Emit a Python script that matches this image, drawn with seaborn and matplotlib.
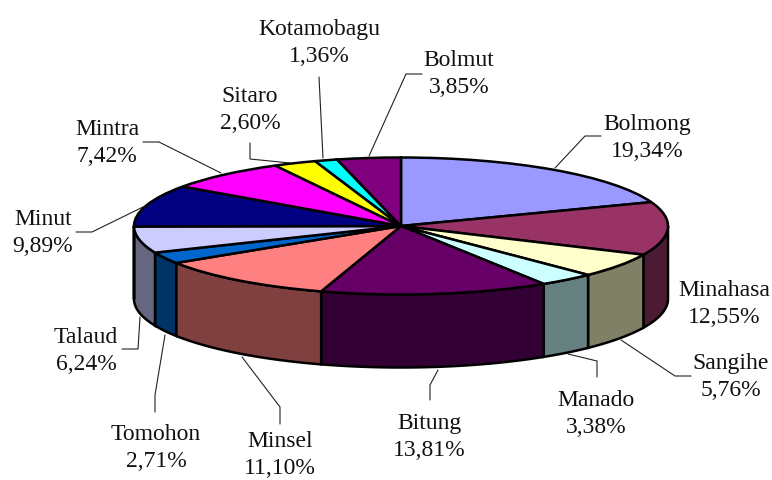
import numpy as np
import matplotlib
matplotlib.use("Agg")
import matplotlib.pyplot as plt
import seaborn as sns

regions = ["Bolmong", "Minahasa", "Sangihe", "Manado", "Bitung", "Minsel", "Tomohon",
           "Talaud", "Minut", "Mintra", "Sitaro", "Kotamobagu", "Bolmut"]
shares = [19.34, 12.55, 5.76, 3.38, 13.81, 11.10, 2.71, 6.24, 9.89, 7.42, 2.60, 1.36, 3.85]
share_labels = ["19,34%", "12,55%", "5,76%", "3,38%", "13,81%", "11,10%", "2,71%",
                "6,24%", "9,89%", "7,42%", "2,60%", "1,36%", "3,85%"]
top_colors = ["#9999FF", "#993366", "#FFFFCC", "#CCFFFF", "#660066", "#FF8080", "#0066CC",
              "#CCCCFF", "#000080", "#FF00FF", "#FFFF00", "#00FFFF", "#800080"]

# label centres in pixels of the 772x480 picture
label_x = [647, 724, 731, 596, 429, 280, 156, 86, 43, 107, 250, 319, 459]
label_y = [138, 304, 377, 414, 437, 455, 448, 351, 233, 143, 110, 43, 74]

# leader lines in pixels
leaders = {
    "Bolmong": [(555, 168), (585, 136), (601, 136)],
    "Sangihe": [(621, 340), (675, 376), (691, 376)],
    "Manado": [(568, 354), (597, 361), (597, 377)],
    "Bitung": [(438, 370), (430, 385), (430, 400)],
    "Minsel": [(242, 357), (280, 407), (280, 424)],
    "Tomohon": [(165, 335), (155, 395), (155, 412)],
    "Talaud": [(140, 317), (138, 349), (122, 349)],
    "Minut": [(143, 207), (92, 232), (76, 232)],
    "Mintra": [(221, 173), (159, 142), (143, 142)],
    "Sitaro": [(290, 163), (250, 159), (250, 143)],
    "Kotamobagu": [(323, 158), (319, 77)],
    "Bolmut": [(369, 156), (406, 74), (422, 74)],
}

sns.set_theme(style="white")
plt.rcParams["font.family"] = ["Liberation Serif", "DejaVu Serif"]

cx, cy, rx, ry, depth = 401, 226, 267, 68.5, 73
W, H = 772, 480


def px(x, y):
    return (x - cx) / rx, (cy - y) / ry


fig = plt.figure(figsize=(7.72, 4.8), dpi=100)
ax = fig.add_axes([0, 0, 1, 1])

palette = sns.color_palette(top_colors)
ax.pie(shares, colors=palette, startangle=90, counterclock=False, normalize=True,
       wedgeprops={"edgecolor": "black", "linewidth": 1.8})
ax.set_aspect("auto")
ax.set_xlim(px(0, 0)[0], px(W, 0)[0])
ax.set_ylim(px(0, H)[1], px(0, 0)[1])

# side walls, only the front half of the ellipse is visible
edges = 90 - np.cumsum([0] + shares) * 360 / sum(shares)
d = depth / ry
for i in range(len(shares)):
    a1, a0 = edges[i], edges[i + 1]
    # bring to the 180..360 range of the front half
    lo = a0 % 360
    hi = lo + (a1 - a0)
    lo2, hi2 = max(lo, 180), min(hi, 360)
    if hi2 <= lo2:
        continue
    t = np.radians(np.linspace(lo2, hi2, 60))
    xs = np.r_[np.cos(t), np.cos(t[::-1])]
    ys = np.r_[np.sin(t), np.sin(t[::-1]) - d]
    side = tuple(c * 0.5 for c in palette[i])
    ax.fill(xs, ys, facecolor=side, edgecolor="black", linewidth=1.8, zorder=0.5)

for name, pts in leaders.items():
    xy = np.array([px(*p) for p in pts])
    ax.plot(xy[:, 0], xy[:, 1], color="#222222", linewidth=0.8, zorder=0.4)

for name, lab, x, y in zip(regions, share_labels, label_x, label_y):
    lx, ly = px(x, y)
    ax.text(lx, ly, name + "\n" + lab, ha="center", va="center", fontsize=17,
            color="#111111", linespacing=1.32)

fig.savefig("out.png", dpi=100)
